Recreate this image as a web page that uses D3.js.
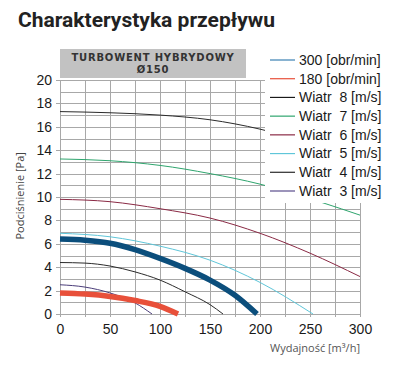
<!DOCTYPE html>
<html>
<head>
<meta charset="utf-8">
<script src="https://cdn.jsdelivr.net/npm/d3@7"></script>
<style>
  body { margin: 0; background: #fff; }
  svg { display: block; }
</style>
</head>
<body>
<svg id="chart" width="406" height="372"></svg>
<script>
// values
const xTicks = [0, 50, 100, 150, 200, 250, 300];
const yTicks = [0, 2, 4, 6, 8, 10, 12, 14, 16, 18, 20];

const seriesNames = ['300 [obr/min]', '180 [obr/min]', 'Wiatr  8 [m/s]', 'Wiatr  7 [m/s]',
    'Wiatr  6 [m/s]', 'Wiatr  5 [m/s]', 'Wiatr  4 [m/s]', 'Wiatr  3 [m/s]'];

const fan300 = [[0, 6.4], [25, 6.3], [50, 6.05], [75, 5.5], [100, 4.75], [125, 3.9], [150, 2.9], [175, 1.6], [197, 0]];
const fan180 = [[0, 1.8], [25, 1.7], [50, 1.5], [75, 1.15], [100, 0.65], [118, 0]];
const wind8 = [[0, 17.3], [50, 17.2], [100, 17.0], [150, 16.6], [200, 15.8], [250, 14.6], [300, 13.2]];
const wind7 = [[0, 13.25], [50, 13.1], [100, 12.7], [150, 12.0], [200, 11.1], [263, 9.5], [300, 8.45]];
const wind6 = [[0, 9.8], [50, 9.6], [100, 9.0], [150, 8.2], [200, 6.9], [250, 5.2], [300, 3.2]];
const wind5 = [[0, 6.9], [50, 6.6], [100, 5.8], [150, 4.6], [200, 2.7], [253, 0]];
const wind4 = [[0, 4.4], [25, 4.35], [50, 4.1], [75, 3.6], [100, 2.9], [125, 1.9], [150, 0.8], [163, 0]];
const wind3 = [[0, 2.5], [25, 2.3], [50, 1.8], [75, 0.95], [92, 0]];

const svg = d3.select('#chart');
const FONT = "'Liberation Sans', Arial, sans-serif";

const x = d3.scaleLinear().domain([0, 300]).range([60, 360]);
const y = d3.scaleLinear().domain([0, 20]).range([314, 80]);

// title
svg.append('text')
    .attr('x', 18)
    .attr('y', 27)
    .attr('font-family', "Roboto, 'DejaVu Sans', sans-serif")
    .attr('font-weight', 'bold')
    .attr('font-size', 21)
    .attr('fill', '#222')
    .text('Charakterystyka przepływu');

// grid
const grid = svg.append('g').attr('stroke', '#a8a8a8').attr('stroke-width', 1);
grid.selectAll('line.v')
    .data(d3.range(0, 301, 25))
    .join('line')
    .attr('x1', (d) => x(d) + 0.5)
    .attr('x2', (d) => x(d) + 0.5)
    .attr('y1', y(20))
    .attr('y2', y(0) + 3);
grid.selectAll('line.h')
    .data(d3.range(0, 21, 1))
    .join('line')
    .attr('x1', (d) => (d % 2 === 0 ? x(0) - 4 : x(0)))
    .attr('x2', x(300))
    .attr('y1', (d) => Math.round(y(d)) + 0.5)
    .attr('y2', (d) => Math.round(y(d)) + 0.5);

// axes labels through d3 axes
const yAxis = d3.axisLeft(y).tickValues(yTicks).tickSize(0).tickPadding(8);
svg.append('g')
    .attr('transform', `translate(${x(0)},0)`)
    .call(yAxis)
    .call((g) => g.select('.domain').remove())
    .selectAll('text')
    .attr('font-family', FONT)
    .attr('font-size', 14)
    .attr('fill', '#1a1a1a');

const xAxis = d3.axisBottom(x).tickValues(xTicks).tickSize(0).tickPadding(10);
svg.append('g')
    .attr('transform', `translate(0,${y(0)})`)
    .call(xAxis)
    .call((g) => g.select('.domain').remove())
    .selectAll('text')
    .attr('font-family', FONT)
    .attr('font-size', 14)
    .attr('fill', '#1a1a1a');

svg.append('text')
    .attr('transform', `translate(24,${y(10.1)}) rotate(-90)`)
    .attr('text-anchor', 'middle')
    .attr('font-family', "'Open Sans', sans-serif")
    .attr('font-size', 11)
    .attr('fill', '#444')
    .text('Podciśnienie [Pa]');

svg.append('text')
    .attr('x', x(300))
    .attr('y', 352)
    .attr('text-anchor', 'end')
    .attr('font-family', "'Open Sans', sans-serif")
    .attr('font-size', 11)
    .attr('fill', '#555')
    .text('Wydajność [m³/h]');

// curves
const line = d3.line()
    .x((d) => x(d[0]))
    .y((d) => y(d[1]))
    .curve(d3.curveMonotoneX);

const curves = [
    { data: wind8, color: '#2b2b2b', width: 1 },
    { data: wind7, color: '#2fa56e', width: 1 },
    { data: wind6, color: '#8a2a45', width: 1 },
    { data: wind5, color: '#5fc6d9', width: 1 },
    { data: wind4, color: '#2b2b2b', width: 1 },
    { data: wind3, color: '#4b3d7a', width: 1 },
    { data: fan180, color: '#e8503a', width: 5.5 },
    { data: fan300, color: '#0b4e7c', width: 5.5 },
];

svg.append('g')
    .selectAll('path')
    .data(curves)
    .join('path')
    .attr('d', (d) => line(d.data))
    .attr('fill', 'none')
    .attr('stroke', (d) => d.color)
    .attr('stroke-width', (d) => d.width);

// header box
svg.append('rect')
    .attr('x', 60)
    .attr('y', 49)
    .attr('width', 186)
    .attr('height', 29)
    .attr('fill', '#c2c2c2');
svg.append('text')
    .attr('x', 153)
    .attr('y', 61)
    .attr('text-anchor', 'middle')
    .attr('font-family', "'DejaVu Sans', sans-serif")
    .attr('font-weight', 'bold')
    .attr('font-size', 10)
    .attr('letter-spacing', 0.8)
    .attr('fill', '#333')
    .text('TURBOWENT HYBRYDOWY');
svg.append('text')
    .attr('x', 153)
    .attr('y', 73)
    .attr('text-anchor', 'middle')
    .attr('font-family', "'DejaVu Sans', sans-serif")
    .attr('font-weight', 'bold')
    .attr('font-size', 10)
    .attr('letter-spacing', 0.8)
    .attr('fill', '#333')
    .text('Ø150');

// legend
const legendColors = ['#3a80b3', '#e8503a', '#1a1a1a', '#2fa56e', '#8a2a45', '#5fc6d9', '#2b2b2b', '#5a4d8c'];
const legendY = d3.scalePoint().domain(seriesNames).range([60, 191]);

svg.append('rect')
    .attr('x', 265)
    .attr('y', 50)
    .attr('width', 141)
    .attr('height', 153)
    .attr('fill', '#fff');

const legend = svg.append('g')
    .selectAll('g')
    .data(seriesNames)
    .join('g')
    .attr('transform', (d) => `translate(0,${legendY(d)})`);
legend.append('line')
    .attr('x1', 270)
    .attr('x2', 295)
    .attr('stroke', (d, i) => legendColors[i])
    .attr('stroke-width', 1.2);
legend.append('text')
    .attr('x', 299)
    .attr('dy', '0.35em')
    .attr('font-family', FONT)
    .attr('font-size', 14)
    .attr('fill', '#1a1a1a')
    .attr('xml:space', 'preserve')
    .style('white-space', 'pre')
    .text((d) => d);
</script>
</body>
</html>
